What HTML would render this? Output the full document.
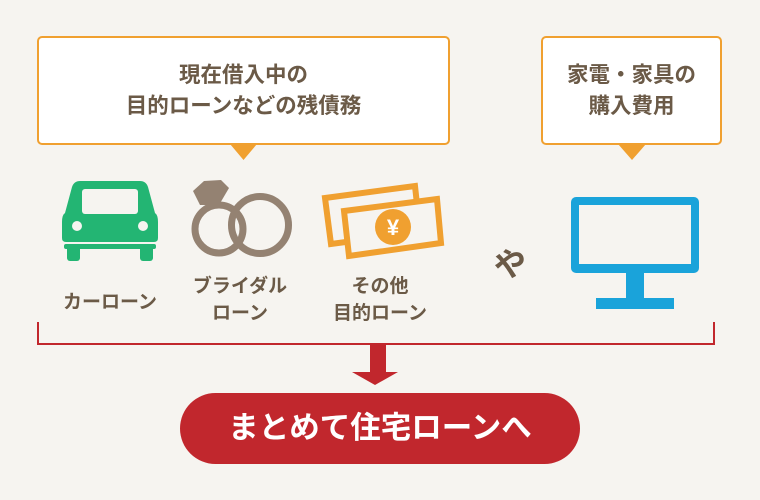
<!DOCTYPE html>
<html><head><meta charset="utf-8"><style>
body{margin:0;width:760px;height:500px;background:#f6f4f0;overflow:hidden;font-family:"Liberation Sans","Noto Sans CJK JP",sans-serif;}
.t{position:absolute;color:#6b5a47;font-weight:bold;text-align:center;white-space:nowrap;}
</style></head><body>
<svg width="760" height="500" style="position:absolute;left:0;top:0">
<rect x="38" y="37" width="411" height="107" rx="4" fill="#fff" stroke="#f0a030" stroke-width="2"/>
<polygon points="230,144 257,144 243.5,160" fill="#f0a030"/>
<rect x="542" y="37" width="179" height="107" rx="4" fill="#fff" stroke="#f0a030" stroke-width="2"/>
<polygon points="618,144 646,144 632,160" fill="#f0a030"/>
<g fill="#23b573">
<path d="M80,181 H140 Q146,181 148,187 L155,213 Q158,215 158,222 V238 Q158,242 154,242 H66 Q62,242 62,238 V222 Q62,215 65,213 L72,187 Q74,181 80,181Z"/>
<rect x="64" y="244" width="92" height="5" rx="2"/>
<rect x="67" y="246" width="13" height="15" rx="3"/>
<rect x="140" y="246" width="13" height="15" rx="3"/>
</g>
<rect x="82" y="189" width="56" height="25" rx="3" fill="#f6f4f0"/>
<circle cx="77" cy="226" r="5" fill="#f6f4f0"/><circle cx="143" cy="226" r="5" fill="#f6f4f0"/>
<g fill="none" stroke="#948272" stroke-width="7">
<circle cx="219" cy="229" r="24"/>
<circle cx="260" cy="225" r="28.5"/>
</g>
<polygon points="193,191 204,181 221,180 229,188 219,205 200,205" fill="#948272"/>
<g fill="#f6f4f0" stroke="#f0a030" stroke-width="6" stroke-linejoin="miter">
<polygon points="325,198 415,186 420,232 331,244"/>
<polygon points="344,211 437,199 441,243 349,256"/>
</g>
<circle cx="393" cy="227" r="18" fill="#f0a030"/>
<text x="393" y="235" font-size="22" font-weight="bold" fill="#fff" text-anchor="middle" font-family="Liberation Sans,sans-serif">¥</text>
<rect x="571" y="197" width="128" height="76" rx="5" fill="#1aa3da"/>
<rect x="579" y="205" width="112" height="59" fill="#f6f4f0"/>
<rect x="626" y="272" width="18" height="26" fill="#1aa3da"/>
<rect x="596" y="298" width="78" height="11" fill="#1aa3da"/>
<polyline points="38,322 38,344 714,344 714,322" fill="none" stroke="#c1272d" stroke-width="2"/>
<rect x="370" y="345" width="16" height="27" fill="#c1272d"/>
<polygon points="352,372 398,372 375,385" fill="#c1272d"/>
<rect x="180" y="393" width="400" height="71" rx="35.5" fill="#c1272d"/>
</svg>
<div class="t" style="left:38px;width:411px;top:60px;font-size:21.5px;line-height:31px">現在借入中の<br>目的ローンなどの残債務</div>
<div class="t" style="left:542px;width:179px;top:60px;font-size:21.5px;line-height:31px">家電・家具の<br>購入費用</div>
<div class="t" style="left:40px;width:140px;top:287px;font-size:19px;">カーローン</div>
<div class="t" style="left:170px;width:140px;top:273px;font-size:19px;line-height:27px">ブライダル<br>ローン</div>
<div class="t" style="left:310px;width:140px;top:273px;font-size:19px;line-height:27px">その他<br>目的ローン</div>
<div class="t" style="left:488px;width:44px;top:238px;font-size:33px;transform:rotate(-15deg)">や</div>
<div class="t" style="left:180px;width:400px;top:408px;font-size:30.5px;color:#fff;line-height:40px">まとめて住宅ローンへ</div>
</body></html>
